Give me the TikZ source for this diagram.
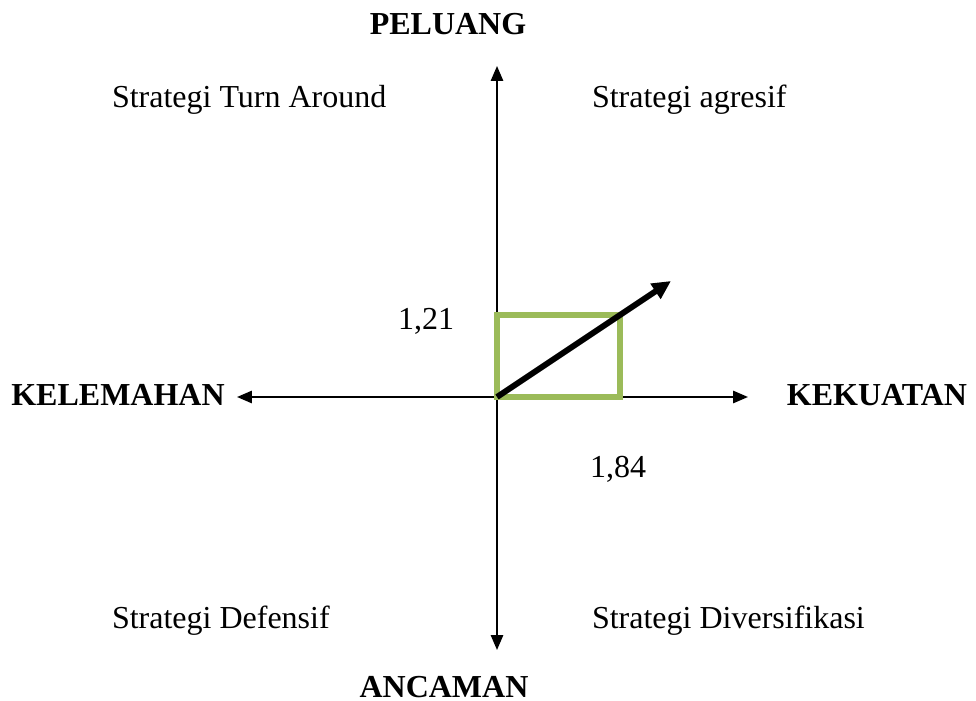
\documentclass[tikz,border=0pt]{standalone}
\usepackage{fontspec}
\setmainfont{Liberation Serif}
\usepackage{xcolor}
\usetikzlibrary{arrows.meta}
\definecolor{boxgreen}{RGB}{155,187,89}

\begin{document}
\begin{tikzpicture}[
      x=0.375pt, y=-0.375pt,
      font=\fontsize{12}{14}\selectfont,
      every node/.style={inner sep=0pt, outer sep=0pt},
      axis/.style={draw, line width=0.75pt,
                   -{Triangle[length=5.6pt, width=4.6pt]}},
      vector/.style={draw, line width=2.2pt,
                     -{Triangle[length=7pt, width=6.5pt]}},
      quad/.style={draw=boxgreen, line width=1.9pt},
      axislabel/.style={anchor=base, font=\fontsize{12}{14}\selectfont\bfseries},
      strat/.style={anchor=base west},
      value/.style={anchor=base},
    ]
    \useasboundingbox (0,0) rectangle (976,701);
    % axes
    \coordinate (o) at (497,397);
    \coordinate (ntop) at (497,66);
    \coordinate (nbot) at (497,650);
    \coordinate (wleft) at (237,397);
    \coordinate (eright) at (748,397);
    \draw[axis] (o) -- (ntop);
    \draw[axis] (o) -- (nbot);
    \draw[axis] (o) -- (wleft);
    \draw[axis] (o) -- (eright);
    % position box and vector
    \coordinate (boxtr) at (620,315);
    \coordinate (vec) at (671,281);
    \draw[quad] (o) rectangle (boxtr);
    \draw[vector] (o) -- (vec);
    % labels
    \node[axislabel] (peluang) at (448,35) {PELUANG};
    \node[axislabel] (ancaman) at (444,697) {ANCAMAN};
    \node[axislabel] (kelemahan) at (118,405) {KELEMAHAN};
    \node[axislabel] (kekuatan) at (877,405) {KEKUATAN};
    \node[strat] (turn) at (112,108) {Strategi Turn Around};
    \node[strat] (agresif) at (592,108) {Strategi agresif};
    \node[strat] (defensif) at (112,628) {Strategi Defensif};
    \node[strat] (divers) at (592,628) {Strategi Diversifikasi};
    \node[value] (yval) at (426,330) {1,21};
    \node[value] (xval) at (618,477) {1,84};
\end{tikzpicture}
\end{document}
